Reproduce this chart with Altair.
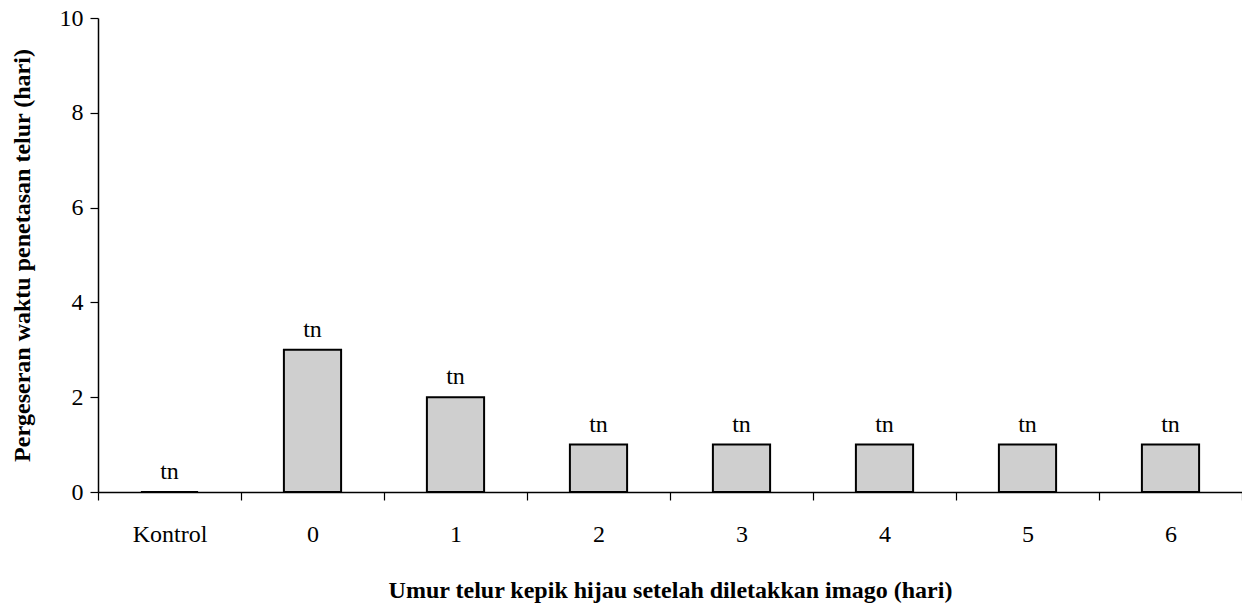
import altair as alt
import pandas as pd

categories = ["Kontrol", "0", "1", "2", "3", "4", "5", "6"]
values = [0, 3, 2, 1, 1, 1, 1, 1]
notes = ["tn", "tn", "tn", "tn", "tn", "tn", "tn", "tn"]

df = pd.DataFrame({"cat": categories, "val": values, "note": notes})

FONT = "'Liberation Serif', 'Times New Roman', serif"

x = alt.X("cat:N", sort=categories,
          scale=alt.Scale(paddingInner=0, paddingOuter=0),
          axis=alt.Axis(title="Umur telur kepik hijau setelah diletakkan imago (hari)",
                        labelAngle=0, tickBand="extent", tickSize=8,
                        labelPadding=22, labelFontSize=24, labelFont=FONT,
                        labelColor="black", tickColor="black", domainColor="black",
                        domainWidth=1.5, tickWidth=1.2,
                        titleFont=FONT, titleFontSize=24, titleFontWeight="bold",
                        titleColor="black", titlePadding=32))
y = alt.Y("val:Q", scale=alt.Scale(domain=[0, 10]),
          axis=alt.Axis(title="Pergeseran waktu penetasan telur (hari)",
                        values=[0, 2, 4, 6, 8, 10], tickSize=8, labelPadding=7,
                        labelFontSize=24, labelFont=FONT, labelColor="black",
                        tickColor="black", domainColor="black", grid=False,
                        domainWidth=1.5, tickWidth=1.2,
                        titleFont=FONT, titleFontSize=24, titleFontWeight="bold",
                        titleColor="black", titlePadding=25))

bars = alt.Chart(df).mark_bar(
    width=alt.RelativeBandSize(0.4), fill="#cfcfcf", stroke="black", strokeWidth=2
).encode(x=x, y=y)

texts = alt.Chart(df).mark_text(
    font=FONT, fontSize=24, baseline="alphabetic", dy=-13, color="black"
).encode(x=alt.X("cat:N", sort=categories), y=alt.Y("val:Q"), text="note:N")

chart = (bars + texts).properties(
    width=1144, height=474,
    autosize=alt.AutoSizeParams(type="none"),
    padding={"left": 90, "top": 10, "right": 0, "bottom": 111},
).configure_view(stroke=None)

chart.save("out.html", embed_options={"renderer": "svg", "actions": False})
